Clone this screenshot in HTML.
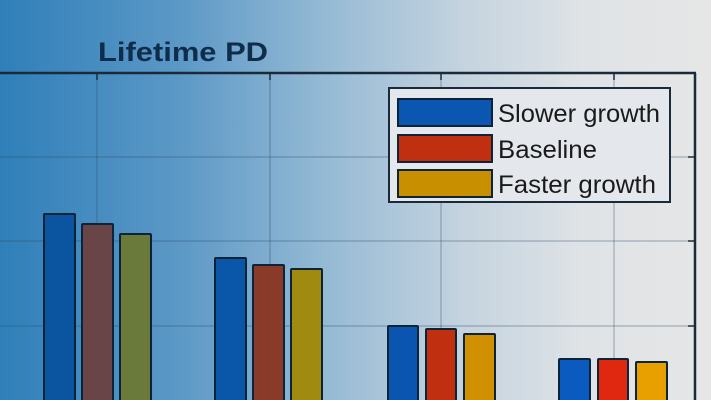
<!DOCTYPE html>
<html><head><style>
html,body{margin:0;padding:0;width:711px;height:400px;overflow:hidden;}
body{background:linear-gradient(90deg,#2f7fb9 0%,#5b98c6 25%,#93b9d4 45%,#c4d3df 65%,#dfe3e6 82%,#e6e6e6 100%);}
</style></head><body>
<svg width="711" height="400" viewBox="0 0 711 400" style="position:absolute;left:0;top:0;overflow:hidden;display:block">
<text x="183" y="61" text-anchor="middle" font-family="Liberation Sans, sans-serif" font-weight="bold" font-size="27" fill="#0f2d4a" textLength="170" lengthAdjust="spacingAndGlyphs">Lifetime PD</text>
<g stroke="#2a4a66" stroke-opacity="0.45" stroke-width="1">
<line x1="97" y1="73" x2="97" y2="400"/><line x1="270" y1="73" x2="270" y2="400"/>
<line x1="441" y1="73" x2="441" y2="400"/><line x1="614" y1="73" x2="614" y2="400"/>
<line x1="0" y1="157" x2="695" y2="157"/><line x1="0" y1="241" x2="695" y2="241"/><line x1="0" y1="326" x2="695" y2="326"/>
</g>
<g stroke="#1a2a3a" stroke-width="2.5">
<line x1="0" y1="73" x2="696" y2="73"/><line x1="695" y1="73" x2="695" y2="400"/>
</g>
<g stroke="#1a2a3a" stroke-width="1.5">
<line x1="97" y1="73" x2="97" y2="80"/><line x1="270" y1="73" x2="270" y2="80"/><line x1="441" y1="73" x2="441" y2="80"/><line x1="614" y1="73" x2="614" y2="80"/>
<line x1="688" y1="157" x2="695" y2="157"/><line x1="688" y1="241" x2="695" y2="241"/><line x1="688" y1="326" x2="695" y2="326"/>
</g>
<g stroke="#0d2436" stroke-width="2">
<rect x="44" y="214" width="31" height="190" fill="#0b55a0" rx="1"/>
<rect x="82" y="224" width="31" height="180" fill="#6a4548" rx="1"/>
<rect x="120" y="234" width="31" height="170" fill="#6a7a3a" rx="1"/>
<rect x="215" y="258" width="31" height="145" fill="#0a56a8" rx="1"/>
<rect x="253" y="265" width="31" height="138" fill="#8a3a28" rx="1"/>
<rect x="291" y="269" width="31" height="134" fill="#a08a10" rx="1"/>
<rect x="388" y="326" width="30" height="77" fill="#0a55b0" rx="1"/>
<rect x="426" y="329" width="30" height="74" fill="#c03010" rx="1"/>
<rect x="464" y="334" width="31" height="69" fill="#d09000" rx="1"/>
<rect x="559" y="359" width="31" height="44" fill="#0a5ac0" rx="1"/>
<rect x="598" y="359" width="30" height="44" fill="#e02810" rx="1"/>
<rect x="636" y="362" width="31" height="41" fill="#e8a000" rx="1"/>
</g>
<rect x="389" y="88" width="281" height="114" fill="#e4e8ec" stroke="#1a2a3a" stroke-width="2"/>
<g stroke="#0d2436" stroke-width="2">
<rect x="398" y="99" width="94" height="27" fill="#0a56b0"/>
<rect x="398" y="135" width="94" height="27" fill="#c03010"/>
<rect x="398" y="170" width="94" height="27" fill="#c89000"/>
</g>
<g font-family="Liberation Sans, sans-serif" font-size="25" fill="#1a1a1a" lengthAdjust="spacingAndGlyphs">
<text x="498" y="122" textLength="162" lengthAdjust="spacingAndGlyphs">Slower growth</text>
<text x="498" y="158" textLength="99" lengthAdjust="spacingAndGlyphs">Baseline</text>
<text x="498" y="193" textLength="158" lengthAdjust="spacingAndGlyphs">Faster growth</text>
</g>
</svg>
</body></html>
